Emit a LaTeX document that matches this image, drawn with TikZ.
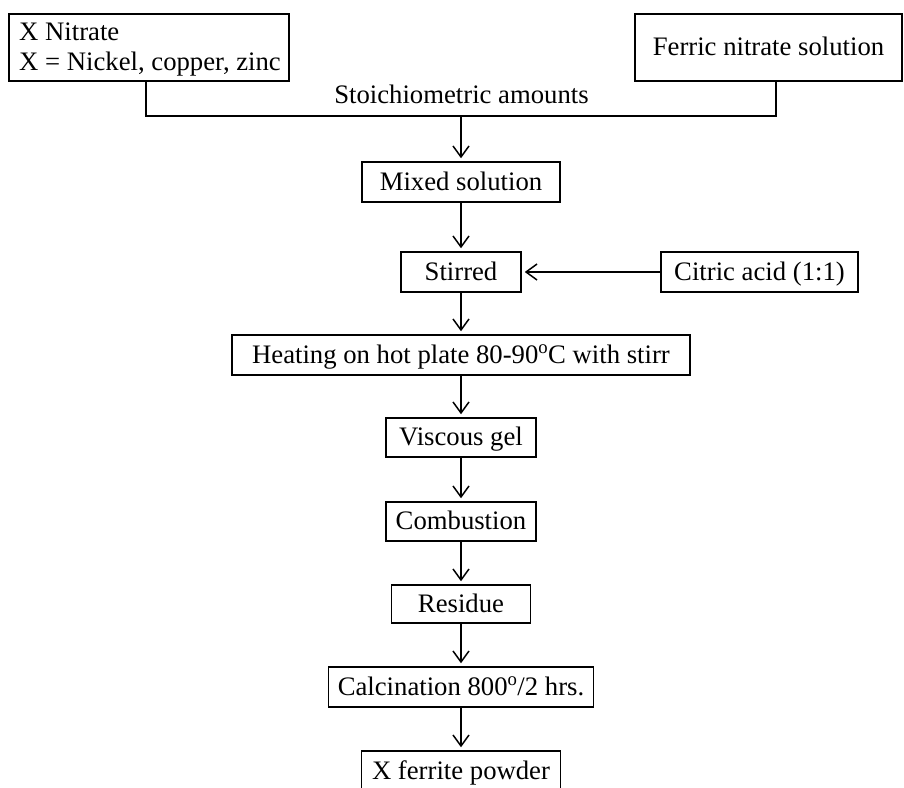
\documentclass[tikz,border=0pt]{standalone}
\usepackage{fontspec}
\setmainfont{Liberation Serif}
\usetikzlibrary{arrows.meta}
\begin{document}
\begin{tikzpicture}[x=1pt,y=-1pt,
  txt/.style={font=\fontsize{26.7}{30}\selectfont},
  box/.style={draw, line width=1.5pt, inner sep=0pt, minimum height=40pt,
    text height=18pt, text depth=2pt, txt},
  flow/.style={draw, line width=1.5pt, -{Straight Barb[length=11pt,width=16pt,line width=1.5pt]}, shorten >=3pt},
  plain/.style={draw, line width=1.5pt}]
\useasboundingbox (0,0) rectangle (904,787);
\clip (0,0) rectangle (904,787);
\node[box, minimum width=280pt, minimum height=67pt] (nit) at (149,47.5) {};
\node[txt, align=left, anchor=west, inner sep=0pt] (nittxt) at (19,50) {X Nitrate\\X = Nickel, copper, zinc};
\node[box, minimum width=267pt, minimum height=67pt] (fer) at (768.5,47.5) {Ferric nitrate solution};
\coordinate (nl) at (146,116);
\coordinate (fl) at (776,116);
\coordinate (mid) at (461,116);
\draw[plain] (nit.south -| nl) -- (nl) -- (fl) -- (fer.south -| fl);
\node[txt, inner sep=0pt, anchor=base] (sto) at (461.5,103) {Stoichiometric amounts};
\node[box, minimum width=198pt] (mix) at (461,182) {Mixed solution};
\node[box, minimum width=120pt] (stir) at (461,272) {Stirred};
\node[box, minimum width=197pt] (cit) at (759.5,272) {Citric acid (1:1)};
\node[box, minimum width=458pt] (heat) at (461,355) {Heating on hot plate 80-90\textsuperscript{o}C with stirr};
\node[box, minimum width=150pt, minimum height=39pt] (visc) at (461,437.5) {Viscous gel};
\node[box, minimum width=150pt, minimum height=39pt] (comb) at (461,521.5) {Combustion};
\node[box, minimum width=139pt, minimum height=38pt] (res) at (461,604) {Residue};
\node[box, minimum width=265pt] (calc) at (461,687) {Calcination 800\textsuperscript{o}/2 hrs.};
\node[box, minimum width=199pt] (ferr) at (461,771) {X ferrite powder};
\draw[flow] (mid) -- (mix.north);
\draw[flow] (mix) -- (stir);
\draw[flow] (cit) -- (stir);
\draw[flow] (stir) -- (heat);
\draw[flow] (heat) -- (visc);
\draw[flow] (visc) -- (comb);
\draw[flow] (comb) -- (res);
\draw[flow] (res) -- (calc);
\draw[flow] (calc) -- (ferr);
\end{tikzpicture}
\end{document}
